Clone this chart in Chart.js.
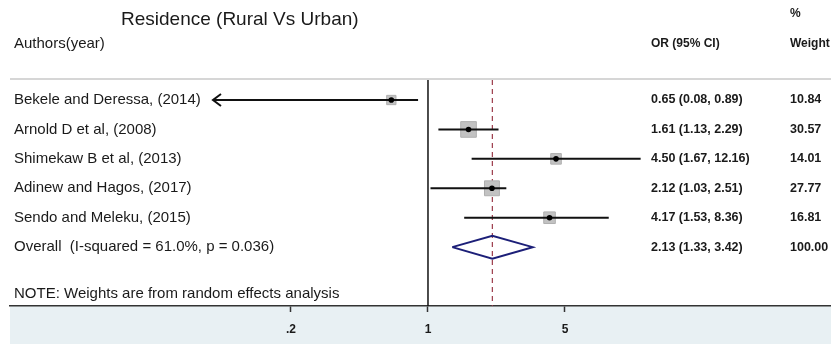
<!DOCTYPE html>
<html>
<head>
<meta charset="utf-8">
<title>Residence (Rural Vs Urban)</title>
<script src="https://cdn.jsdelivr.net/npm/chart.js@4.4.0/dist/chart.umd.min.js"></script>
<style>
  html, body { margin: 0; padding: 0; background: #fff; }
  #wrap { width: 831px; height: 344px; position: relative; }
</style>
</head>
<body>
<div id="wrap"><canvas id="forest"></canvas></div>
<script>
'use strict';

// ---- data ----
var studies = ['Bekele and Deressa, (2014)', 'Arnold D et al, (2008)', 'Shimekaw B et al, (2013)',
               'Adinew and Hagos, (2017)', 'Sendo and Meleku, (2015)'];
var orValues = [0.65, 1.61, 4.50, 2.12, 4.17];
var ciLower  = [0.08, 1.13, 1.67, 1.03, 1.53];
var ciUpper  = [0.89, 2.29, 12.16, 2.51, 8.36];
var weights  = [10.84, 30.57, 14.01, 27.77, 16.81];
var ciText   = ['0.65 (0.08, 0.89)', '1.61 (1.13, 2.29)', '4.50 (1.67, 12.16)', '2.12 (1.03, 2.51)', '4.17 (1.53, 8.36)'];

var overallLabel = 'Overall  (I-squared = 61.0%, p = 0.036)';
var overall = { est: 2.13, lo: 1.33, hi: 3.42, text: '2.13 (1.33, 3.42)', weight: '100.00' };

var tickValues = [0.2, 1, 5];
var tickLabels = ['.2', '1', '5'];

var arrowLimit = 0.1;   // CI below this gets an arrow head

// ---- datasets ----
var FONT = '"Liberation Sans", Arial, sans-serif';
var datasets = [];

// dots on top
datasets.push({
    label: 'or',
    data: orValues.map(function(v, i) { return {x: v, y: i}; }),
    pointStyle: 'circle', pointRadius: 2.8, pointBackgroundColor: '#000', pointBorderWidth: 0,
    order: 0
});

// CI lines
for (var i = 0; i < studies.length; i++) {
    datasets.push({
        label: 'ci' + i,
        data: [{x: ciLower[i], y: i}, {x: ciUpper[i], y: i}],
        showLine: true, borderColor: '#111', borderWidth: 2, pointRadius: 0,
        order: 1
    });
}

// weight boxes
datasets.push({
    label: 'box',
    data: orValues.map(function(v, i) { return {x: v, y: i}; }),
    pointStyle: 'rect',
    pointRadius: function(ctx) { return Math.sqrt(weights[ctx.dataIndex]) * 2.0; },
    pointBackgroundColor: '#c2c2c2', pointBorderColor: '#b0b0b0', pointBorderWidth: 1,
    order: 3
});

// overall diamond
var oRow = studies.length;
datasets.push({
    label: 'overall',
    data: [{x: overall.lo, y: oRow}, {x: overall.est, y: oRow - 0.39}, {x: overall.hi, y: oRow},
           {x: overall.est, y: oRow + 0.39}, {x: overall.lo, y: oRow}],
    showLine: true, fill: false, borderColor: '#1c1f78', borderWidth: 2, pointRadius: 0,
    tension: 0, order: 1
});

// ---- plugin: background, reference lines, arrows, text ----
var forestDecor = {
    id: 'forestDecor',
    beforeDraw: function(chart) {
        var c = chart.ctx, a = chart.chartArea;
        c.save();
        c.fillStyle = '#e8f0f3';
        c.fillRect(a.left, a.bottom, a.right - a.left, chart.height - a.bottom);
        c.restore();
    },
    beforeDatasetsDraw: function(chart) {
        var c = chart.ctx, a = chart.chartArea, xs = chart.scales.x;
        c.save();
        // header rule
        c.strokeStyle = '#c8c8c8'; c.lineWidth = 1.5;
        c.beginPath(); c.moveTo(a.left, a.top - 1); c.lineTo(a.right, a.top - 1); c.stroke();
        // no-effect line
        var x1 = xs.getPixelForValue(1);
        c.strokeStyle = '#111'; c.lineWidth = 1.5;
        c.beginPath(); c.moveTo(x1, a.top); c.lineTo(x1, a.bottom); c.stroke();
        // overall estimate dashed line
        var xo = xs.getPixelForValue(overall.est);
        c.strokeStyle = '#9c3b4a'; c.lineWidth = 1.2; c.setLineDash([5, 4]);
        c.beginPath(); c.moveTo(xo, a.top); c.lineTo(xo, a.bottom); c.stroke();
        c.restore();
    },
    afterDatasetsDraw: function(chart) {
        var c = chart.ctx, xs = chart.scales.x, ys = chart.scales.y;
        c.save();
        c.strokeStyle = '#111'; c.lineWidth = 2;
        for (var i = 0; i < studies.length; i++) {
            if (ciLower[i] < arrowLimit) {
                var x = xs.getPixelForValue(ciLower[i]), y = ys.getPixelForValue(i);
                c.beginPath(); c.moveTo(x + 8, y - 6); c.lineTo(x, y); c.lineTo(x + 8, y + 6); c.stroke();
            }
        }
        c.restore();
    },
    afterDraw: function(chart) {
        var c = chart.ctx, ys = chart.scales.y;
        c.save();
        c.textBaseline = 'middle';
        c.fillStyle = '#1a1a1a';
        c.font = '19px ' + FONT;
        c.fillText('Residence (Rural Vs Urban)', 121, 20);
        c.font = '15px ' + FONT;
        c.fillText('Authors(year)', 14, 44);
        c.font = 'bold 12px ' + FONT;
        c.fillText('OR (95% CI)', 651, 44);
        c.fillText('%', 790, 14);
        c.fillText('Weight', 790, 44);

        for (var i = 0; i < studies.length; i++) {
            var y = ys.getPixelForValue(i);
            c.font = '15px ' + FONT;
            c.fillText(studies[i], 14, y);
            c.font = 'bold 12.5px ' + FONT;
            c.fillText(ciText[i], 651, y);
            c.fillText(weights[i].toFixed(2), 790, y);
        }
        var yo = ys.getPixelForValue(oRow);
        c.font = '15px ' + FONT;
        c.fillText(overallLabel, 14, yo);
        c.font = 'bold 12.5px ' + FONT;
        c.fillText(overall.text, 651, yo);
        c.fillText(overall.weight, 790, yo);

        c.font = '15px ' + FONT;
        c.fillText('NOTE: Weights are from random effects analysis', 14, ys.getPixelForValue(oRow + 1.58));
        c.restore();
    }
};

var chart = new Chart(document.getElementById('forest'), {
    type: 'scatter',
    data: { datasets: datasets },
    plugins: [forestDecor],
    options: {
        responsive: true,
        maintainAspectRatio: false,
        animation: false,
        events: [],
        layout: { autoPadding: false, padding: { top: 80, left: 10, right: 0, bottom: 0 } },
        plugins: { legend: { display: false }, tooltip: { enabled: false } },
        scales: {
            x: {
                type: 'logarithmic',
                min: 0.00737,
                max: 113.8,
                afterBuildTicks: function(scale) {
                    scale.ticks = tickValues.map(function(v) { return {value: v}; });
                },
                afterFit: function(scale) { scale.height = 38; },
                ticks: {
                    autoSkip: false, maxRotation: 0, padding: 10, color: '#1a1a1a',
                    font: { family: FONT, size: 12, weight: 'bold' },
                    callback: function(v) {
                        var k = tickValues.indexOf(v);
                        return k >= 0 ? tickLabels[k] : '';
                    }
                },
                grid: { drawOnChartArea: false, tickLength: 6, color: '#333', tickWidth: 1.5 },
                border: { display: true, color: '#333', width: 1.5 }
            },
            y: {
                display: false,
                reverse: true,
                min: -0.68,
                max: 7.0
            }
        }
    }
});
</script>
</body>
</html>
